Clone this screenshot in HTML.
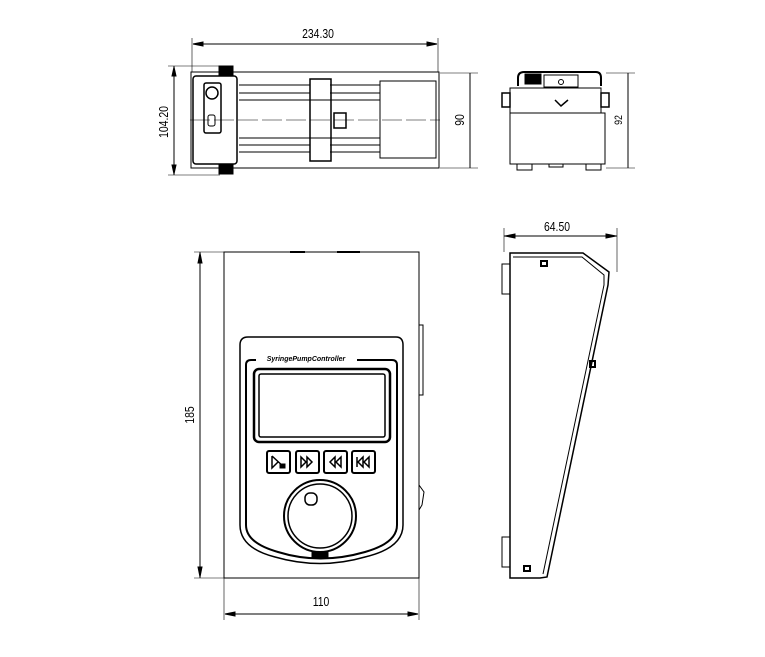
<!DOCTYPE html>
<html><head><meta charset="utf-8"><style>
html,body{margin:0;padding:0;background:#fff;width:765px;height:657px;overflow:hidden}
svg{display:block}
text{font-family:"Liberation Sans",sans-serif;fill:#000}
</style></head><body>
<svg width="765" height="657" viewBox="0 0 765 657" fill="none" stroke="#000" stroke-width="1">
<!-- TOP VIEW -->
<line x1="193" y1="44" x2="437" y2="44"/>
<polygon points="193,44 203,42 203,46" fill="#000"/><polygon points="437,44 427,42 427,46" fill="#000"/>
<line x1="192" y1="38" x2="192" y2="72" stroke-width="0.6"/><line x1="438" y1="38" x2="438" y2="72" stroke-width="0.6"/>
<text transform="translate(318,38) scale(0.8,1)" font-size="13" text-anchor="middle" stroke="none">234.30</text>
<rect x="191" y="72" width="248" height="96"/>
<line x1="168" y1="66" x2="220" y2="66" stroke-width="0.6"/><line x1="168" y1="175" x2="220" y2="175" stroke-width="0.6"/>
<line x1="174" y1="66" x2="174" y2="175"/>
<polygon points="174,67 172,76 176,76" fill="#000"/><polygon points="174,174 172,165 176,165" fill="#000"/>
<text transform="translate(168,122) rotate(-90) scale(0.8,1)" font-size="13" text-anchor="middle" stroke="none">104.20</text>
<rect x="193" y="76" width="44" height="88" rx="3" stroke-width="1.5"/>
<rect x="204" y="83" width="17" height="50" rx="2" stroke-width="1.5"/>
<circle cx="212" cy="93" r="6" stroke-width="1.5"/>
<rect x="208" y="115" width="7" height="11" rx="2"/>
<rect x="219" y="66" width="14" height="9" fill="#000"/>
<rect x="219" y="164" width="14" height="10" fill="#000"/>
<line x1="239" y1="85" x2="310" y2="85"/><line x1="239" y1="93" x2="310" y2="93"/>
<line x1="239" y1="100" x2="380" y2="100"/><line x1="239" y1="138" x2="380" y2="138"/>
<line x1="239" y1="145" x2="310" y2="145"/><line x1="239" y1="152" x2="310" y2="152"/>
<line x1="330" y1="85" x2="380" y2="85"/><line x1="330" y1="93" x2="380" y2="93"/>
<line x1="330" y1="145" x2="380" y2="145"/><line x1="330" y1="152" x2="380" y2="152"/>
<line x1="190" y1="120" x2="440" y2="120" stroke-width="0.6" stroke-dasharray="20,4"/>
<rect x="310" y="79" width="21" height="82" stroke-width="1.5"/>
<rect x="334" y="113" width="12" height="15" stroke-width="1.5"/>
<rect x="380" y="81" width="56" height="77"/>
<line x1="440" y1="73" x2="478" y2="73" stroke-width="0.6"/><line x1="440" y1="168" x2="478" y2="168" stroke-width="0.6"/>
<line x1="470" y1="73" x2="470" y2="168"/>
<text transform="translate(464,120) rotate(-90) scale(0.8,1)" font-size="13" text-anchor="middle" stroke="none">90</text>
<!-- END VIEW -->
<path d="M518 86 V78 Q518 72 524 72 H596 Q601 72 601 78 V86" stroke-width="2"/>
<rect x="525" y="74" width="16" height="10" fill="#000"/>
<rect x="544" y="75" width="34" height="12"/><circle cx="561" cy="82" r="2.5"/>
<path d="M510 113 V88 H601 V113"/>
<path d="M555 100 L561 106 L568 100" stroke-width="1.5"/>
<rect x="502" y="93" width="8" height="14" stroke-width="1.5"/><rect x="601" y="93" width="8" height="14" stroke-width="1.5"/>
<rect x="510" y="113" width="95" height="51"/>
<rect x="517" y="164" width="15" height="6"/><rect x="586" y="164" width="15" height="6"/><rect x="549" y="164" width="14" height="3"/>
<line x1="606" y1="73" x2="635" y2="73" stroke-width="0.6"/><line x1="606" y1="168" x2="635" y2="168" stroke-width="0.6"/>
<line x1="628" y1="73" x2="628" y2="168"/>
<text transform="translate(622,120) rotate(-90) scale(0.8,1)" font-size="11" text-anchor="middle" stroke="none">92</text>
<!-- FRONT VIEW -->
<rect x="224" y="252" width="195" height="326"/>
<line x1="290" y1="252" x2="305" y2="252" stroke-width="2"/><line x1="337" y1="252" x2="360" y2="252" stroke-width="2"/>
<rect x="419" y="325" width="4" height="70"/><path d="M419 485 L424 492 L422 505 L419 510"/>
<line x1="194" y1="252" x2="224" y2="252" stroke-width="0.6"/><line x1="194" y1="578" x2="224" y2="578" stroke-width="0.6"/>
<line x1="200" y1="252" x2="200" y2="578"/>
<polygon points="200,253 198,263 202,263" fill="#000"/><polygon points="200,577 198,567 202,567" fill="#000"/>
<text transform="translate(194,415) rotate(-90) scale(0.8,1)" font-size="13" text-anchor="middle" stroke="none">185</text>
<line x1="224" y1="578" x2="224" y2="620" stroke-width="0.6"/><line x1="419" y1="578" x2="419" y2="620" stroke-width="0.6"/>
<line x1="225" y1="614" x2="418" y2="614"/>
<polygon points="225,614 235,612 235,616" fill="#000"/><polygon points="418,614 408,612 408,616" fill="#000"/>
<text transform="translate(321,606) scale(0.8,1)" font-size="13" text-anchor="middle" stroke="none">110</text>
<path d="M240 525 V345 Q240 337 248 337 H396 Q403 337 403 345 V525" stroke-width="1.5"/>
<path d="M240 525 Q240 548 275 557 Q320 570 365 557 Q403 548 403 525" stroke-width="1.5"/>
<path d="M246 525 V365 Q246 360 251 360 H256 M357 360 H392 Q397 360 397 365 V525 Q397 543 365 552 Q320 565 278 552 Q246 543 246 525" stroke-width="2"/>
<text x="306" y="361" font-size="7" font-weight="bold" font-style="italic" text-anchor="middle" stroke="none">SyringePumpController</text>
<rect x="254" y="369" width="136" height="73" rx="5" stroke-width="2.5"/>
<rect x="259" y="374" width="126" height="63" rx="2" stroke-width="1.5"/>
<rect x="267" y="451" width="23" height="22" rx="2" stroke-width="2"/>
<rect x="296" y="451" width="23" height="22" rx="2" stroke-width="2"/>
<rect x="324" y="451" width="23" height="22" rx="2" stroke-width="2"/>
<rect x="352" y="451" width="23" height="22" rx="2" stroke-width="2"/>
<path d="M272 456 L285 468 M272 456 V468 L278 462" stroke-width="1.5"/><rect x="280" y="464" width="5" height="4" fill="#000"/>
<path d="M301 457 L306 462 L301 467 Z M307 457 L312 462 L307 467 Z" stroke-width="1.5"/>
<path d="M335 457 L330 462 L335 467 Z M341 457 L336 462 L341 467 Z" stroke-width="1.5"/>
<path d="M357 457 V467 M363 457 L358 462 L363 467 Z M369 457 L364 462 L369 467 Z" stroke-width="1.5"/>
<circle cx="320" cy="516" r="36" stroke-width="2"/>
<circle cx="320" cy="516" r="32" stroke-width="1.5"/>
<rect x="305" y="493" width="12" height="12" rx="5" stroke-width="1.5"/>
<rect x="312" y="552" width="16" height="6" fill="#000"/>
<!-- SIDE VIEW -->
<line x1="504" y1="236" x2="617" y2="236"/>
<polygon points="505,236 515,234 515,238" fill="#000"/><polygon points="616,236 606,234 606,238" fill="#000"/>
<line x1="504" y1="228" x2="504" y2="252" stroke-width="0.6"/><line x1="617" y1="228" x2="617" y2="272" stroke-width="0.6"/>
<text transform="translate(557,231) scale(0.8,1)" font-size="13" text-anchor="middle" stroke="none">64.50</text>
<path d="M510 253 H583 L609 272 L608 285 L547 577 L540 578 H510 Z" stroke-width="1.5"/>
<path d="M513 257 H582 L604 275 L604 285 L543 574" stroke-width="1"/>
<rect x="502" y="264" width="8" height="30"/><rect x="502" y="537" width="8" height="30"/>
<rect x="541" y="261" width="6" height="5" stroke-width="2"/>
<rect x="590" y="361" width="5" height="6" stroke-width="2"/>
<rect x="524" y="566" width="6" height="5" stroke-width="2"/>
</svg>
</body></html>
